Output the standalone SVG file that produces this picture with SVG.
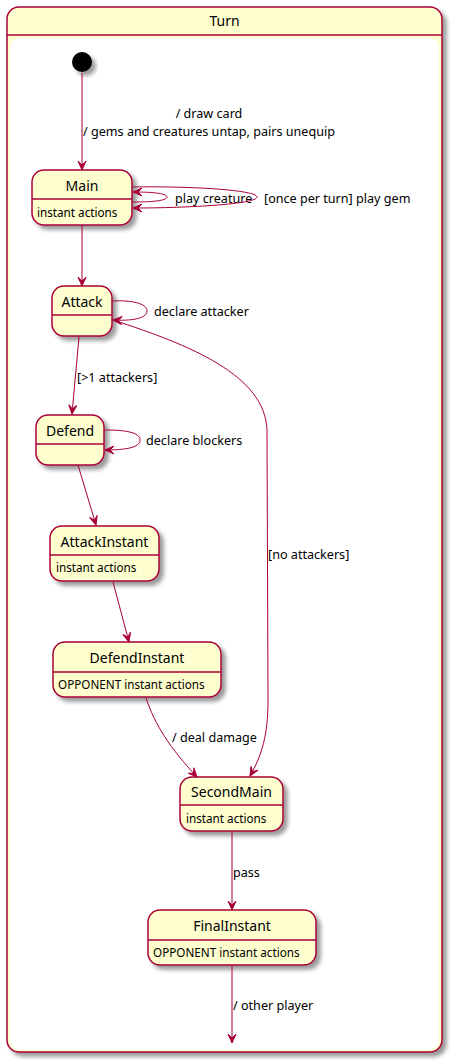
<svg xmlns="http://www.w3.org/2000/svg" width="453" height="1063" viewBox="0 0 453 1063">
<defs>
<filter id="sh" x="-20%" y="-20%" width="150%" height="150%">
<feGaussianBlur in="SourceAlpha" stdDeviation="2"/>
<feOffset dx="4" dy="4" result="o"/>
<feComponentTransfer><feFuncA type="linear" slope="0.4"/></feComponentTransfer>
<feMerge><feMergeNode/><feMergeNode in="SourceGraphic"/></feMerge>
</filter>
<marker id="ah" viewBox="-10 -5 11 10" refX="0" refY="0" markerWidth="11" markerHeight="10" markerUnits="userSpaceOnUse" orient="auto" overflow="visible">
<path d="M0,0 L-9,-4 L-5,0 L-9,4 Z" fill="#A80036" stroke="#A80036" stroke-width="1"/>
</marker>
<style>
.box{fill:#FEFECE;stroke:#A80036;stroke-width:1.5}
.sep{stroke:#A80036;stroke-width:1.5}
.ttl{font-family:"Noto Sans","DejaVu Sans",sans-serif;font-size:14px;fill:#000;text-anchor:middle}
.dsc{font-family:"Noto Sans","DejaVu Sans",sans-serif;font-size:11.7px;fill:#000}
.lbl{font-family:"Noto Sans","DejaVu Sans",sans-serif;font-size:12.6px;fill:#000}
.edge{fill:none;stroke:#A80036;stroke-width:1}
</style>
</defs>
<rect width="453" height="1063" fill="#fff"/>
<g id="Turn">
<rect x="7" y="7" width="435" height="1045" rx="12" ry="12" class="box" filter="url(#sh)"/>
<line x1="7" y1="35" x2="442" y2="35" class="sep"/>
<rect x="10" y="38" width="429" height="1012" rx="10" ry="10" fill="#fff"/>
<text x="224.5" y="26" class="ttl">Turn</text>
</g>
<g id="start">
<circle cx="82" cy="62" r="10" fill="#000" filter="url(#sh)"/>
</g>
<g id="Main">
<rect x="32" y="170" width="100" height="55" rx="12" ry="12" class="box" filter="url(#sh)"/>
<line x1="32" y1="199" x2="132" y2="199" class="sep"/>
<text x="82" y="191" class="ttl">Main</text>
<text x="37" y="217" class="dsc">instant actions</text>
</g>
<g id="Attack">
<rect x="52" y="286" width="60" height="50" rx="12" ry="12" class="box" filter="url(#sh)"/>
<line x1="52" y1="315" x2="112" y2="315" class="sep"/>
<text x="82" y="307" class="ttl">Attack</text>
</g>
<g id="Defend">
<rect x="36" y="415" width="68" height="50" rx="12" ry="12" class="box" filter="url(#sh)"/>
<line x1="36" y1="444" x2="104" y2="444" class="sep"/>
<text x="70" y="436" class="ttl">Defend</text>
</g>
<g id="AttackInstant">
<rect x="50" y="526" width="109" height="55" rx="12" ry="12" class="box" filter="url(#sh)"/>
<line x1="50" y1="555" x2="159" y2="555" class="sep"/>
<text x="104.5" y="547" class="ttl">AttackInstant</text>
<text x="56" y="572" class="dsc">instant actions</text>
</g>
<g id="DefendInstant">
<rect x="53" y="642" width="168" height="55" rx="12" ry="12" class="box" filter="url(#sh)"/>
<line x1="53" y1="672" x2="221" y2="672" class="sep"/>
<text x="137" y="663" class="ttl">DefendInstant</text>
<text x="58" y="689" class="dsc">OPPONENT instant actions</text>
</g>
<g id="SecondMain">
<rect x="180" y="777" width="103" height="54" rx="12" ry="12" class="box" filter="url(#sh)"/>
<line x1="180" y1="805" x2="283" y2="805" class="sep"/>
<text x="231.5" y="797" class="ttl">SecondMain</text>
<text x="186" y="823" class="dsc">instant actions</text>
</g>
<g id="FinalInstant">
<rect x="148" y="910" width="168" height="55" rx="12" ry="12" class="box" filter="url(#sh)"/>
<line x1="148" y1="940" x2="316" y2="940" class="sep"/>
<text x="232" y="931" class="ttl">FinalInstant</text>
<text x="153" y="957" class="dsc">OPPONENT instant actions</text>
</g>
<g id="connectors">
<path class="edge" marker-end="url(#ah)" d="M82,73 L82,170"/>
<text x="209" y="118" class="lbl" text-anchor="middle">/ draw card</text>
<text x="83" y="136" class="lbl">/ gems and creatures untap, pairs unequip</text>
<path class="edge" marker-end="url(#ah)" d="M133,202 C150,202 167,201 167,197 C167,193 150,192 133,192"/>
<text x="175" y="203" class="lbl">play creature</text>
<path class="edge" marker-end="url(#ah)" d="M133,187 C190,186 257,190 257,197 C257,204 190,208 133,208"/>
<text x="264" y="203" class="lbl">[once per turn] play gem</text>
<path class="edge" marker-end="url(#ah)" d="M82,225 L82,286"/>
<path class="edge" marker-end="url(#ah)" d="M113,301 C130,300 147,303 147,311 C147,319 130,321 113,320"/>
<text x="154" y="316" class="lbl">declare attacker</text>
<path class="edge" marker-end="url(#ah)" d="M79,337 L72,414"/>
<text x="77" y="382" class="lbl">[&gt;1 attackers]</text>
<path class="edge" marker-end="url(#ah)" d="M105,430 C124,430 140,432 140,440 C140,448 124,450 105,450"/>
<text x="146" y="445" class="lbl">declare blockers</text>
<path class="edge" marker-end="url(#ah)" d="M78,465 L96,525"/>
<path class="edge" marker-end="url(#ah)" d="M113,582 L129,642"/>
<path class="edge" marker-end="url(#ah)" d="M146,698 C155,725 170,748 197,777"/>
<text x="172" y="742" class="lbl">/ deal damage</text>
<path class="edge" marker-end="url(#ah)" d="M113,320 C190,345 265,375 267,430 L268,700 C268,735 262,755 250,776"/>
<text x="268" y="559" class="lbl">[no attackers]</text>
<path class="edge" marker-end="url(#ah)" d="M232,832 L232,910"/>
<text x="233" y="877" class="lbl">pass</text>
<path class="edge" marker-end="url(#ah)" d="M232,966 L232,1043"/>
<text x="233" y="1010" class="lbl">/ other player</text>
</g>
</svg>
